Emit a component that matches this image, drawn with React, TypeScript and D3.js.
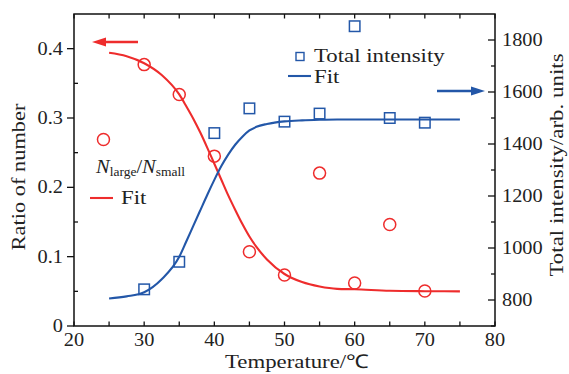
import React from "react";
import * as d3 from "d3";

// measured points
const circleTemps = [24.2, 30, 35, 40, 45, 50, 55, 60, 65, 70];
const ratioValues = [0.269, 0.377, 0.334, 0.245, 0.107, 0.0735, 0.2205, 0.062, 0.1465, 0.0504];
const squareTemps = [30, 35, 40, 45, 50, 55, 60, 65, 70];
const intensityValues = [841, 947, 1442, 1537, 1486, 1517, 1853, 1500, 1482];

// fit curves
const fitTemps = [25, 27.5, 30, 32.5, 35, 36, 37, 38, 39, 40, 41, 42, 43, 44, 45, 46, 47.5, 50, 52.5, 55, 57.5, 60, 65, 70, 75];
const ratioFit = [0.394, 0.389, 0.379, 0.362, 0.334, 0.317, 0.299, 0.279, 0.257, 0.234, 0.211, 0.188, 0.167, 0.147, 0.129, 0.114, 0.096, 0.075, 0.0634, 0.057, 0.0536, 0.053, 0.0508, 0.0502, 0.05];
const intensityFit = [806, 814, 830, 880, 966, 1025, 1085, 1145, 1205, 1262, 1315, 1360, 1398, 1428, 1452, 1466, 1477, 1487, 1491, 1493, 1494, 1494, 1494, 1494, 1494];

const xMajor = [20, 30, 40, 50, 60, 70, 80];
const xMinor = [25, 35, 45, 55, 65, 75];
const leftMajor = [0, 0.1, 0.2, 0.3, 0.4];
const leftMinor = [0.05, 0.15, 0.25, 0.35];
const rightMajor = [800, 1000, 1200, 1400, 1600, 1800];
const rightMinor = [700, 900, 1100, 1300, 1500, 1700];

const RED = "#ee2c2c";
const BLUE = "#2357a8";
const FONT = "'Liberation Serif', 'Times New Roman', serif";

const W = 569;
const H = 374;
const m = { left: 74, right: 495, top: 14, bottom: 326 };

// text stretched a bit sideways, the original font is wider than Times
function T({ x, y, anchor = "start", size = 19, sx = 1.2, rotate = 0, children, fill = "#222" }: any) {
  return (
    <g transform={`translate(${x},${y}) rotate(${rotate}) scale(${sx},1)`}>
      <text x={0} y={0} textAnchor={anchor} fontSize={size} fontFamily={FONT} fill={fill}>
        {children}
      </text>
    </g>
  );
}

export default function App() {
  const x = d3.scaleLinear().domain([20, 80]).range([m.left, m.right]);
  const yL = d3.scaleLinear().domain([0, 0.45]).range([m.bottom, m.top]);
  const yR = d3.scaleLinear().domain([700, 1900]).range([m.bottom, m.top]);

  const redLine = d3
    .line<number>()
    .x((_, i) => x(fitTemps[i]))
    .y((d) => yL(d))
    .curve(d3.curveMonotoneX);
  const blueLine = d3
    .line<number>()
    .x((_, i) => x(fitTemps[i]))
    .y((d) => yR(d))
    .curve(d3.curveMonotoneX);

  const sq = 10.5;

  return (
    <svg
      width={W}
      height={H}
      style={{ position: "absolute", left: 0, top: 0, background: "#fff", display: "block" }}
    >
      <defs>
        <clipPath id="plot">
          <rect x={m.left} y={m.top} width={m.right - m.left} height={m.bottom - m.top} />
        </clipPath>
      </defs>

      {/* fit curves */}
      <g clipPath="url(#plot)" fill="none" strokeWidth={2.1}>
        <path d={redLine(ratioFit) || ""} stroke={RED} />
        <path d={blueLine(intensityFit) || ""} stroke={BLUE} />
      </g>

      {/* markers */}
      {circleTemps.map((t, i) => (
        <circle key={"c" + i} cx={x(t)} cy={yL(ratioValues[i])} r={6} fill="none" stroke={RED} strokeWidth={1.5} />
      ))}
      {squareTemps.map((t, i) => (
        <rect
          key={"s" + i}
          x={x(t) - sq / 2}
          y={yR(intensityValues[i]) - sq / 2}
          width={sq}
          height={sq}
          fill="none"
          stroke={BLUE}
          strokeWidth={1.5}
        />
      ))}

      {/* frame */}
      <rect
        x={m.left}
        y={m.top}
        width={m.right - m.left}
        height={m.bottom - m.top}
        fill="none"
        stroke="#111"
        strokeWidth={1.5}
      />

      {/* ticks */}
      <g stroke="#111" strokeWidth={1.3}>
        {[...xMajor, ...xMinor].map((t) => (
          <g key={"xt" + t}>
            <line x1={x(t)} x2={x(t)} y1={m.bottom} y2={m.bottom - 4.5} />
            <line x1={x(t)} x2={x(t)} y1={m.top} y2={m.top + 4.5} />
          </g>
        ))}
        {leftMajor.map((v) => (
          <line key={"lm" + v} x1={m.left - 7} x2={m.left} y1={yL(v)} y2={yL(v)} />
        ))}
        {leftMinor.map((v) => (
          <line key={"ln" + v} x1={m.left} x2={m.left + 4} y1={yL(v)} y2={yL(v)} />
        ))}
        {rightMajor.map((v) => (
          <line key={"rm" + v} x1={m.right - 7} x2={m.right} y1={yR(v)} y2={yR(v)} />
        ))}
        {rightMinor.map((v) => (
          <line key={"rn" + v} x1={m.right - 4} x2={m.right} y1={yR(v)} y2={yR(v)} />
        ))}
      </g>

      {/* tick labels */}
      {xMajor.map((t) => (
        <T key={"xl" + t} x={x(t)} y={346} anchor="middle" size={18} sx={1.13}>
          {t}
        </T>
      ))}
      {leftMajor.map((v) => (
        <T key={"ll" + v} x={63} y={yL(v) + 6} anchor="end" size={18} sx={1.13}>
          {v === 0 ? "0" : v.toFixed(1)}
        </T>
      ))}
      {rightMajor.map((v) => (
        <T key={"rl" + v} x={502} y={yR(v) + 6} anchor="start" size={18} sx={1.13}>
          {v}
        </T>
      ))}

      {/* axis titles */}
      <T x={297} y={368} anchor="middle">
        Temperature/℃
      </T>
      <T x={25} y={177} anchor="middle" rotate={-90} sx={1.18}>
        Ratio of number
      </T>
      <T x={563} y={165} anchor="middle" rotate={-90} size={18.5} sx={1.24}>
        Total intensity/arb. units
      </T>

      {/* direction arrows */}
      <line x1={138} x2={100} y1={42} y2={42} stroke={RED} strokeWidth={2.6} />
      <path d="M92,42 L106,37.5 L106,46.5 Z" fill={RED} />
      <line x1={437} x2={476} y1={91} y2={91} stroke={BLUE} strokeWidth={2.6} />
      <path d="M485,91 L471,86.5 L471,95.5 Z" fill={BLUE} />

      {/* blue legend */}
      <rect x={296} y={52.5} width={8} height={8} fill="none" stroke={BLUE} strokeWidth={1.4} />
      <T x={314} y={62}>Total intensity</T>
      <line x1={288} x2={311} y1={76} y2={76} stroke={BLUE} strokeWidth={2.1} />
      <T x={314} y={83}>Fit</T>

      {/* red legend */}
      <T x={96} y={173} size={19} sx={1.08}>
        <tspan fontStyle="italic">N</tspan>
        <tspan fontSize={12.5} dy={3}>large</tspan>
        <tspan dy={-3}>/</tspan>
        <tspan fontStyle="italic">N</tspan>
        <tspan fontSize={12.5} dy={3}>small</tspan>
      </T>
      <line x1={90} x2={113} y1={198} y2={198} stroke={RED} strokeWidth={2.1} />
      <T x={121} y={204}>Fit</T>
    </svg>
  );
}
